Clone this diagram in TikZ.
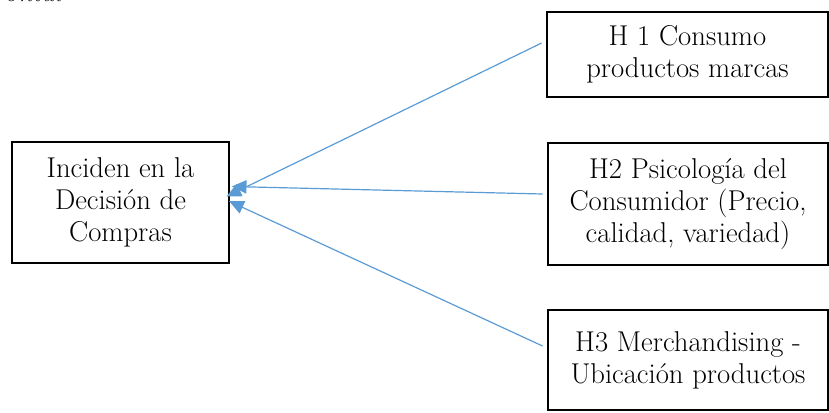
\documentclass[tikz,border=0pt]{standalone}
\usepackage{tikz}
\usetikzlibrary{arrows.meta,positioning}
\definecolor{linkblue}{RGB}{91,155,213}

\begin{document}
\begin{tikzpicture}[x=0.75pt, y=-0.75pt,
    arrowstyle/.style={draw=linkblue, line width=0.9pt,
        -{Triangle[length=11pt, width=10pt]}},
    hypothesis/.style={rectangle, draw, line width=2.2pt, inner sep=0pt,
        align=center, font=\fontsize{21.5}{24}\selectfont},
    decision/.style={hypothesis, minimum width=162.75pt, minimum height=90.75pt}
]
\useasboundingbox (0,0) rectangle (829,412);
\node (Caption) [anchor=base west, font=\fontsize{20}{24}\selectfont\itshape]
  at (0,1.5) {ontal};

\node (Decision) [decision] at (120.5,202.5) {Inciden en la\\Decisión de\\Compras};
\node (Hyp01) [hypothesis, minimum width=210.75pt, minimum height=63.75pt]
  at (687.5,54.5) {H 1 Consumo\\productos marcas};
\node (Hyp02) [hypothesis, minimum width=210pt, minimum height=91.5pt]
  at (688,204) {H2 Psicología del\\Consumidor (Precio,\\calidad, variedad)};
\node (Hyp03) [hypothesis, minimum width=210pt, minimum height=75pt]
  at (688,360) {H3 Merchandising -\\Ubicación productos};

\draw [arrowstyle] ([xshift=-3pt, yshift=8.6pt]Hyp01.west) -- ([xshift=-3pt, yshift=4.5pt]Decision.east);
\draw [arrowstyle] ([xshift=-3pt, yshift=7.5pt]Hyp02.west) -- ([xshift=1pt, yshift=12pt]Decision.east);
\draw [arrowstyle] ([xshift=-3pt, yshift=10.5pt]Hyp03.west) -- ([xshift=-1pt, yshift=1pt]Decision.east);
\end{tikzpicture}
\end{document}
